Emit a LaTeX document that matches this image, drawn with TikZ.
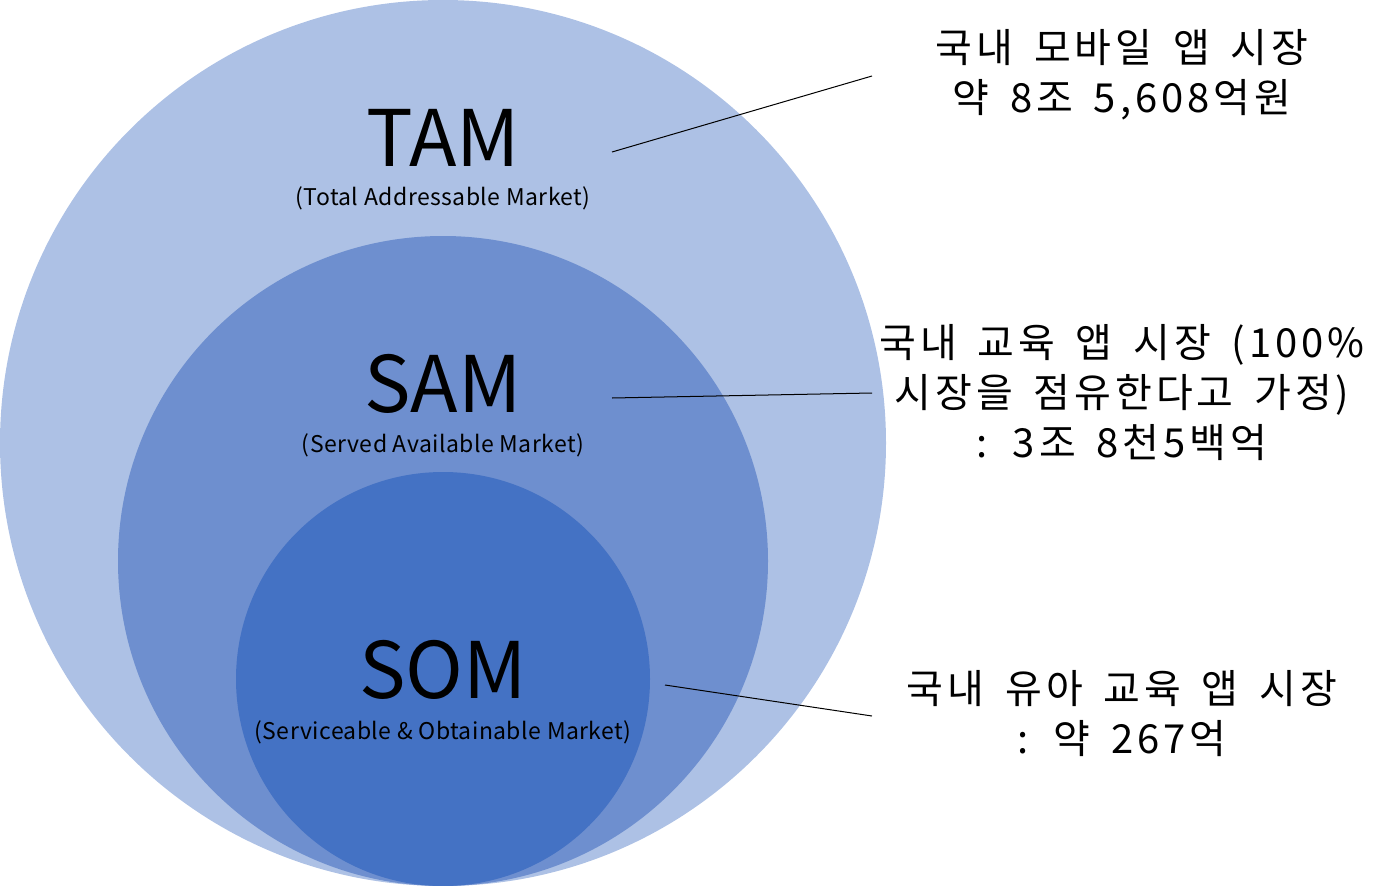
\documentclass[tikz,border=0pt]{standalone}
\usepackage{fontspec}
\setmainfont{Noto Sans CJK KR}
\newfontfamily\notefont[LetterSpace=10,WordSpace=1.6]{Noto Sans CJK KR}
\newfontfamily\fullfont[LetterSpace=2]{Noto Sans CJK KR}
\definecolor{tamblue}{RGB}{173,193,229}
\definecolor{samblue}{RGB}{110,143,207}
\definecolor{somblue}{RGB}{68,114,196}

\begin{document}
\begin{tikzpicture}[x=1pt, y=-1pt,
  bigname/.style={anchor=base, font=\fontsize{78}{80}\selectfont},
  fullname/.style={anchor=base, font=\fullfont\fontsize{23}{26}\selectfont},
  note/.style={align=center, font=\notefont\fontsize{40}{50}\selectfont},
  lead/.style={draw=black, line width=1pt}]
  \useasboundingbox (0,0) rectangle (1395,886);
  % nested market circles
  \fill[tamblue] (443,443) circle (443pt);
  \fill[samblue] (443,561) circle (325pt);
  \fill[somblue] (443,679) circle (207pt);
  % circle labels
  \node[bigname] (tam) at (443,166) {TAM};
  \node[fullname] (tamfull) at (443,205) {(Total Addressable Market)};
  \node[bigname] (sam) at (443,412) {SAM};
  \node[fullname] (samfull) at (443,452) {(Served Available Market)};
  \node[bigname] (som) at (443,698) {SOM};
  \node[fullname] (somfull) at (443,739) {(Serviceable \& Obtainable Market)};
  % market size notes
  \node[note] (tamnote) at (1122,75) {국내 모바일 앱 시장\\약 8조 5,608억원};
  \node[note] (samnote) at (1122,393) {국내 교육 앱 시장 (100\%\\시장을 점유한다고 가정)\\: 3조 8천5백억};
  \node[note] (somnote) at (1122,714) {국내 유아 교육 앱 시장\\: 약 267억};
  % leader lines
  \coordinate (tamin) at (612,152);
  \coordinate (tamout) at (872,76);
  \coordinate (samin) at (612,398);
  \coordinate (samout) at (872,393);
  \coordinate (somin) at (665,685);
  \coordinate (somout) at (872,716);
  \draw[lead] (tamin) -- (tamout);
  \draw[lead] (samin) -- (samout);
  \draw[lead] (somin) -- (somout);
\end{tikzpicture}
\end{document}
